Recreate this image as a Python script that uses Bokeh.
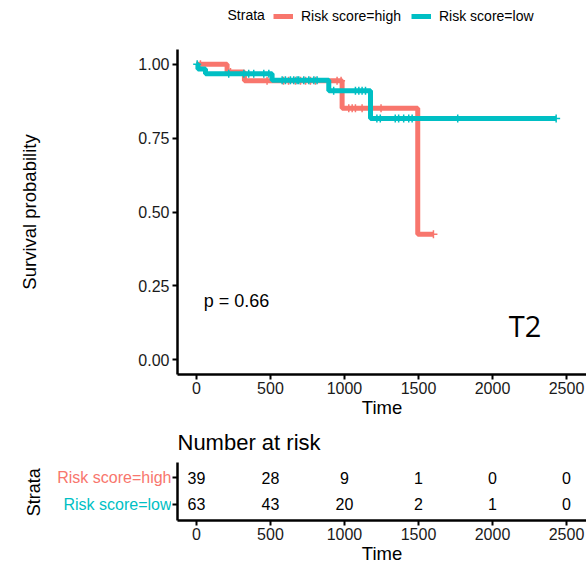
import numpy as np
from bokeh.plotting import figure
from bokeh.models import Range1d, FixedTicker, Legend, LegendItem, Label, ColumnDataSource
from bokeh.layouts import column, row
from bokeh.embed import file_html
from bokeh.resources import INLINE
from bokeh.core.properties import value

# ---------------- data ----------------
strata = ["Risk score=high", "Risk score=low"]
colors = ["#F8766D", "#00BFC4"]
high_time = [0, 207, 324, 984, 1495, 1601]
high_surv = [1.0, 0.974, 0.944, 0.851, 0.425, 0.425]
low_time = [0, 10, 61, 511, 894, 1176, 2430]
low_surv = [1.0, 0.984, 0.968, 0.946, 0.910, 0.8165, 0.8165]
high_censor = [27, 230, 477, 588, 622, 669, 703, 737, 770, 804, 950, 977,
               1029, 1052, 1074, 1119, 1247, 1601]
low_censor = [5, 218, 320, 353, 387, 455, 489, 579, 601, 635, 657, 680, 691,
              725, 759, 793, 815, 927, 1074, 1097, 1119, 1142, 1219, 1242,
              1343, 1366, 1400, 1434, 1457, 1765, 2430]
risk_times = [0, 500, 1000, 1500, 2000, 2500]
risk_high = [39, 28, 9, 1, 0, 0]
risk_low = [63, 43, 20, 2, 1, 0]
x_ticks = [0, 500, 1000, 1500, 2000, 2500]
y_ticks = [0, 0.25, 0.5, 0.75, 1.0]
y_tick_labels = ["0.00", "0.25", "0.50", "0.75", "1.00"]
p_value_text = "p = 0.66"
panel_tag = "T2"
legend_title = "Strata"

FONT = "Liberation Sans"
X_RANGE = (-128, 2635)
W = 586
FRAME_LEFT = 177


def surv_at(times, survs, t):
    t_arr = np.asarray(times, dtype=float)
    s_arr = np.asarray(survs, dtype=float)
    idx = np.searchsorted(t_arr, np.asarray(t, dtype=float), side="right") - 1
    return s_arr[np.clip(idx, 0, len(s_arr) - 1)]


def style_axes(p):
    for ax in list(p.xaxis) + list(p.yaxis):
        ax.axis_line_width = 2.5
        ax.axis_line_color = "black"
        ax.major_tick_line_width = 2
        ax.major_tick_line_color = "black"
        ax.major_tick_out = 5
        ax.major_tick_in = 0
        ax.minor_tick_line_color = None
        ax.major_label_text_font = FONT
        ax.major_label_text_font_size = "16px"
        ax.major_label_text_color = "#1a1a1a"
        ax.axis_label_text_font = FONT
        ax.axis_label_text_font_size = "18.5px"
        ax.axis_label_text_font_style = "normal"
        ax.axis_label_text_color = "black"
    p.xgrid.grid_line_color = None
    p.ygrid.grid_line_color = None
    p.outline_line_color = None


# ---------------- legend strip ----------------
lg = figure(width=W, height=30, output_backend="svg", toolbar_location=None,
            x_range=Range1d(0, 1), y_range=Range1d(0, 1),
            min_border=0, x_axis_type=None, y_axis_type=None)
lg.xgrid.grid_line_color = None
lg.ygrid.grid_line_color = None
lg.outline_line_color = None
leg_items = []
for name, col in zip(strata, colors):
    # renderers kept outside the visible range: only their legend keys show
    r1 = lg.line(x=[5, 6], y=[5, 6], line_color=col, line_width=5)
    r2 = lg.scatter(x=[5], y=[5], marker="cross", size=8, line_color=col, line_width=1.5)
    leg_items.append(LegendItem(label=name, renderers=[r1, r2]))
legend = Legend(items=leg_items, orientation="horizontal",
                location=(273 - FRAME_LEFT, 6))
legend.label_text_font = FONT
legend.label_text_font_size = "14px"
legend.label_text_color = "black"
legend.border_line_color = None
legend.background_fill_alpha = 0
legend.glyph_width = 20
legend.glyph_height = 12
legend.spacing = 10
legend.label_standoff = 8
legend.padding = 2
legend.margin = 0
lg.add_layout(legend, "center")
lg.add_layout(Label(x=227 - FRAME_LEFT, y=16, x_units="screen", y_units="screen",
                    text=legend_title, text_font=FONT, text_font_size="14px",
                    text_baseline="middle", text_align="left", text_color="black"))

# ---------------- main KM plot ----------------
p = figure(width=W, height=390, output_backend="svg", toolbar_location=None,
           x_range=Range1d(*X_RANGE), y_range=Range1d(-0.05, 1.05),
           min_border_left=FRAME_LEFT, min_border_right=0, min_border_top=19,
           min_border_bottom=46)
style_axes(p)
p.xaxis.ticker = FixedTicker(ticks=x_ticks)
p.yaxis.ticker = FixedTicker(ticks=y_ticks)
p.yaxis.major_label_overrides = {t: l for t, l in zip(y_ticks, y_tick_labels)}
p.xaxis.axis_label = "Time"
p.yaxis.axis_label = "Survival probability"
p.xaxis.major_label_standoff = 2
p.xaxis.axis_label_standoff = 0
p.yaxis.major_label_standoff = 3
p.yaxis.axis_label_standoff = 95

for col, tt, ss, cc in [(colors[0], high_time, high_surv, high_censor),
                        (colors[1], low_time, low_surv, low_censor)]:
    p.step(x=tt, y=ss, mode="after", line_color=col, line_width=5)
    p.scatter(x=cc, y=surv_at(tt, ss, cc), marker="cross", size=8,
              line_color=col, line_width=1.5)

p.add_layout(Label(x=49, y=0.2, text=p_value_text, text_font=FONT,
                   text_font_size="18px", text_baseline="middle",
                   text_align="left", text_color="black"))
p.add_layout(Label(x=2110, y=0.115, text=panel_tag, text_font="Open Sans",
                   text_font_size="29px", text_baseline="middle",
                   text_align="left", text_color="black"))

# ---------------- risk table ----------------
LBL_W = 171
row_y = [1.5, 0.5]
TBL_Y = (-0.13, 2.09)

lab = figure(width=LBL_W, height=146, output_backend="svg", toolbar_location=None,
             x_range=Range1d(0, LBL_W), y_range=Range1d(*TBL_Y),
             min_border_left=0, min_border_right=0, min_border_top=40,
             min_border_bottom=46, x_axis_type=None, y_axis_type=None)
lab.xgrid.grid_line_color = None
lab.ygrid.grid_line_color = None
lab.outline_line_color = None
lab.text(x=[LBL_W] * 2, y=row_y, text=strata, text_color=colors,
         text_align="right", text_baseline="middle", text_font=value(FONT),
         text_font_size="16px")
lab.text(x=[33], y=[0.95], text=["Strata"], angle=np.pi / 2,
         text_align="center", text_baseline="middle", text_font=value(FONT),
         text_font_size="18px", text_color="black")

t = figure(width=W - LBL_W, height=146, output_backend="svg", toolbar_location=None,
           x_range=Range1d(*X_RANGE), y_range=Range1d(*TBL_Y),
           min_border_left=FRAME_LEFT - LBL_W, min_border_right=0, min_border_top=40,
           min_border_bottom=46, title="Number at risk")
style_axes(t)
t.title.text_font = FONT
t.title.text_font_size = "22px"
t.title.text_font_style = "normal"
t.title.text_color = "black"
t.title.align = "left"
t.title.standoff = 15
t.xaxis.ticker = FixedTicker(ticks=x_ticks)
t.xaxis.axis_label = "Time"
t.xaxis.major_label_standoff = 2
t.xaxis.axis_label_standoff = 0
t.yaxis.ticker = FixedTicker(ticks=row_y)
t.yaxis.major_label_overrides = {1.5: "", 0.5: ""}
t.yaxis.major_label_standoff = 0
t.yaxis.major_label_text_font_size = "1px"

src = ColumnDataSource(dict(
    x=risk_times + risk_times,
    y=[row_y[0]] * len(risk_times) + [row_y[1]] * len(risk_times),
    n=[str(v) for v in risk_high] + [str(v) for v in risk_low]))
t.text(x="x", y="y", text="n", source=src, text_align="center",
       text_baseline="middle", text_font=value(FONT), text_font_size="16px",
       text_color="black")

layout = column(lg, p, row(lab, t, spacing=0), spacing=0)
open("out.html", "w").write(file_html(layout, INLINE))
